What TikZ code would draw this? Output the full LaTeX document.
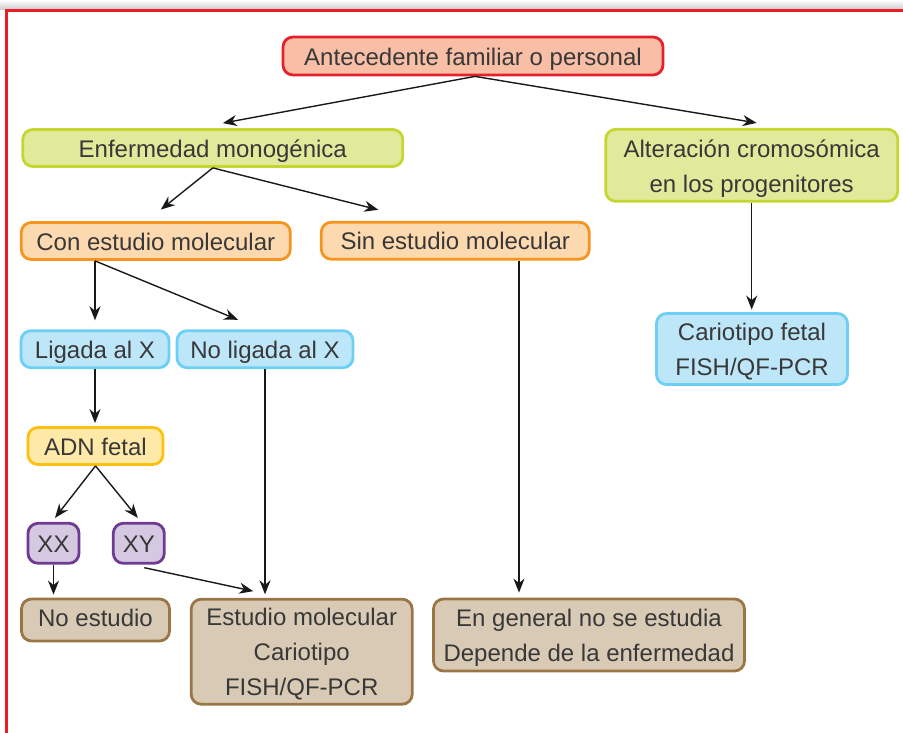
\documentclass[tikz,border=0pt]{standalone}
\usepackage{fontspec}
\setmainfont{Liberation Sans}
\usetikzlibrary{arrows.meta}
\definecolor{txt}{HTML}{383838}
\definecolor{framered}{HTML}{ED1C24}
\definecolor{redfill}{HTML}{F8BEA6}
\definecolor{redline}{HTML}{E4202B}
\definecolor{limefill}{HTML}{E1E99B}
\definecolor{limeline}{HTML}{C6D630}
\definecolor{orangefill}{HTML}{FDD9B0}
\definecolor{orangeline}{HTML}{F7941E}
\definecolor{bluefill}{HTML}{BEE6F9}
\definecolor{blueline}{HTML}{6DCFF6}
\definecolor{yellowfill}{HTML}{FFE9A8}
\definecolor{yellowline}{HTML}{FDC010}
\definecolor{purplefill}{HTML}{D5C8E1}
\definecolor{purpleline}{HTML}{6F3A92}
\definecolor{brownfill}{HTML}{D9CAB5}
\definecolor{brownline}{HTML}{9A7646}
\begin{document}
\begin{tikzpicture}[x=1pt,y=-1pt,
  font=\fontsize{24}{35}\selectfont,
  box/.style={draw, line width=2.8pt, rounded corners=10pt, inner sep=0pt,
    align=center, text=txt, text height=23pt, text depth=4.5pt},
  two/.style={text height=58pt},
  three/.style={text height=93pt},
  redbox/.style={box, fill=redfill, draw=redline},
  limebox/.style={box, fill=limefill, draw=limeline},
  orangebox/.style={box, fill=orangefill, draw=orangeline},
  bluebox/.style={box, fill=bluefill, draw=blueline},
  yellowbox/.style={box, fill=yellowfill, draw=yellowline},
  purplebox/.style={box, fill=purplefill, draw=purpleline},
  brownbox/.style={box, fill=brownfill, draw=brownline},
  arr/.style={draw=black!90, line width=1.4pt, -{Stealth[length=14pt,width=11pt,inset=4.5pt]}}
]
\useasboundingbox (0,0) rectangle (903,733);
% frame
\shade[top color=white, bottom color=black!20] (0,0) rectangle (903,9.5);
\draw[draw=framered, line width=3pt] (6,733) -- (6,10.5) -- (903,10.5);

% nodes
\node[redbox, minimum width=380pt, minimum height=38pt] (ant) at (473,56) {Antecedente familiar o personal};
\node[limebox, minimum width=380pt, minimum height=37pt] (enf) at (212.8,148) {Enfermedad monogénica};
\node[limebox, two, minimum width=292pt, minimum height=72pt] (alt) at (751.7,165.3) {Alteración cromosómica\\en los progenitores};
\node[orangebox, minimum width=269pt, minimum height=37pt] (con) at (155.8,241) {Con estudio molecular};
\node[orangebox, minimum width=268pt, minimum height=37pt] (sin) at (455.3,240.7) {Sin estudio molecular};
\node[bluebox, minimum width=148pt, minimum height=37pt] (lig) at (95,349.2) {Ligada al X};
\node[bluebox, minimum width=176pt, minimum height=37pt] (nolig) at (265,349.2) {No ligada al X};
\node[bluebox, two, minimum width=191pt, minimum height=71pt] (car) at (752,349) {Cariotipo fetal\\FISH/QF-PCR};
\node[yellowbox, minimum width=135pt, minimum height=37pt] (adn) at (95.5,446) {ADN fetal};
\node[purplebox, minimum width=51pt, minimum height=40pt] (xx) at (53.5,543.3) {XX};
\node[purplebox, minimum width=51pt, minimum height=40pt] (xy) at (138.8,543.3) {XY};
\node[brownbox, text depth=9.5pt, minimum width=148pt, minimum height=42pt] (noest) at (95.5,620) {No estudio};
\node[brownbox, three, minimum width=221pt, minimum height=105pt] (estmol) at (301.7,651.7) {Estudio molecular\\Cariotipo\\FISH/QF-PCR};
\node[brownbox, two, minimum width=311pt, minimum height=72pt] (engen) at (589,635) {En general no se estudia\\Depende de la enfermedad};

% connectors
\draw[arr] ([xshift=2pt]ant.south) -- ([shift={(10,-5)}]enf.north);
\draw[arr] ([xshift=2pt]ant.south) -- ([shift={(5,-5)}]alt.north);
\draw[arr] (enf.south) -- ([shift={(5,-11.5)}]con.north);
\draw[arr] (enf.south) -- ([shift={(-77,-11)}]sin.north);
\draw[arr, shorten >=9pt] (lig.north |- con.south) -- (lig.north);
\draw[arr] (lig.north |- con.south) -- ([shift={(-27,-9.5)}]nolig.north);
\draw[arr, shorten >=3pt] (lig.south) -- (lig.south |- adn.north);
\draw[arr] (adn.south) -- ([shift={(1.5,-4)}]xx.north);
\draw[arr] (adn.south) -- ([shift={(-1,-4)}]xy.north);
\draw[arr, shorten >=3pt] (xx.south) -- (xx.south |- noest.north);
\draw[arr] ([shift={(5.5,3)}]xy.south) -- ([shift={(-48.4,-6.6)}]estmol.north);
\draw[arr, shorten >=3.5pt] (nolig.south) -- (nolig.south |- estmol.north);
\draw[arr] ([xshift=63.7pt]sin.south) -- ([shift={(-70,-5)}]engen.north);
\draw[arr, shorten >=2.5pt] (alt.south) -- (alt.south |- car.north);
\end{tikzpicture}
\end{document}
